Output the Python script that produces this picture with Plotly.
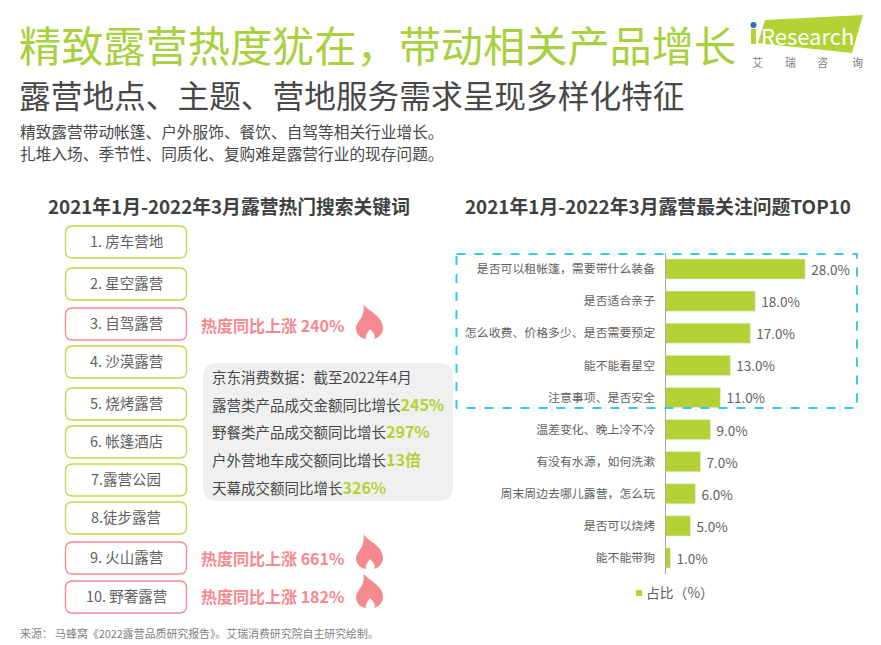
import plotly.graph_objects as go

W, H = 881, 645
FONT = "Noto Sans CJK SC"
GREEN = "#b2d235"
PINK = "#f5898f"
GRAY = "#5f5f5f"
DARK = "#484848"

# top 10 questions, largest first
questions = ["是否可以租帐篷，需要带什么装备", "是否适合亲子", "怎么收费、价格多少、是否需要预定",
             "能不能看星空", "注意事项、是否安全", "温差变化、晚上冷不冷", "有没有水源，如何洗漱",
             "周末周边去哪儿露营，怎么玩", "是否可以烧烤", "能不能带狗"]
shares = [28, 18, 17, 13, 11, 9, 7, 6, 5, 1]
series_name = "占比（%）"

keywords = ["1. 房车营地", "2. 星空露营", "3. 自驾露营", "4. 沙漠露营", "5. 烧烤露营",
            "6. 帐篷酒店", "7.露营公园", "8.徒步露营", "9. 火山露营", "10. 野奢露营"]
hot_rises = {2: "240%", 8: "661%", 9: "182%"}

jd_lines = ["京东消费数据：截至2022年4月", "露营类产品成交金额同比增长", "野餐类产品成交额同比增长",
            "户外营地车成交额同比增长", "天幕成交额同比增长"]
jd_values = ["", "245%", "297%", "13倍", "326%"]

# pixel layout of the hand placed parts
box_tops = [226, 268, 308, 346, 388, 426, 464, 502, 542, 581]
flame_tops = {2: 303, 8: 533, 9: 572}
rise_y = {2: 326, 8: 559, 9: 597}
jd_y = [378, 405, 432, 460, 488]


def px(x):
    return x / W


def py(y):
    return 1 - y / H


def round_rect(x0, y0, x1, y1, r):
    # rounded rectangle as a paper coordinates path
    pts = [("M", x0 + r, y0), ("L", x1 - r, y0), ("Q", x1, y0, x1, y0 + r), ("L", x1, y1 - r),
           ("Q", x1, y1, x1 - r, y1), ("L", x0 + r, y1), ("Q", x0, y1, x0, y1 - r),
           ("L", x0, y0 + r), ("Q", x0, y0, x0 + r, y0)]
    out = ""
    for p in pts:
        out += p[0]
        vals = p[1:]
        out += " ".join(f"{px(vals[i]):.5f},{py(vals[i + 1]):.5f}" for i in range(0, len(vals), 2)) + " "
    return out + "Z"


def flame(x0, y0):
    segs = [("M", [(7, 0)]), ("C", [(9, 7), (27, 12), (27, 25)]), ("C", [(27, 31), (22, 35), (18, 36)]),
            ("C", [(20, 33), (18, 30), (14, 26)]), ("C", [(11, 30), (9, 33), (10, 36)]),
            ("C", [(4, 35), (0, 31), (0, 25)]), ("C", [(0, 20), (6, 16), (7, 10)]),
            ("C", [(8, 6), (8, 3), (7, 0)])]
    out = ""
    for cmd, pts in segs:
        out += cmd + " ".join(f"{px(x0 + a):.5f},{py(y0 + b):.5f}" for a, b in pts) + " "
    return out + "Z"


def label(text, x, y, size, color=GRAY, anchor="left", bold=False):
    if bold:
        text = f"<b>{text}</b>"
    # annotations sit a little low and right of the asked spot
    if anchor == "left":
        x -= 2.5
    fig.add_annotation(text=text, x=px(x), y=py(y - 1.5), xref="paper", yref="paper", showarrow=False,
                       xanchor=anchor, yanchor="middle", align=anchor,
                       font=dict(size=size, color=color, family=FONT))


def path(d, fill="rgba(0,0,0,0)", line="rgba(0,0,0,0)", width=0, dash="solid", layer="above"):
    fig.add_shape(type="path", path=d, xref="paper", yref="paper", fillcolor=fill, layer=layer,
                  line=dict(color=line, width=width, dash=dash))


fig = go.Figure()
fig.add_trace(go.Bar(y=questions, x=shares, orientation="h", name=series_name, marker_color=GREEN,
                     texttemplate=" %{x:.1f}%", textposition="outside", cliponaxis=False,
                     textfont=dict(size=13.5, color=GRAY, family=FONT)))

fig.update_layout(width=W, height=H, margin=dict(l=0, r=0, t=0, b=0), autosize=False,
                  paper_bgcolor="white", plot_bgcolor="white", bargap=0.375,
                  font=dict(family=FONT, color=GRAY), showlegend=False)
fig.update_xaxes(domain=[px(665.5), px(860)], range=[0, 39], visible=False)
fig.update_yaxes(domain=[py(574), py(253)], autorange="reversed", showline=True, linecolor="#a6a6a6",
                 linewidth=1, ticks="", ticklabelstandoff=7, showgrid=False,
                 tickfont=dict(size=11.9, color=GRAY, family=FONT))

# header
label("精致露营热度犹在，带动相关产品增长", 19, 45.5, 42.2, "#a8d040")
label("露营地点、主题、营地服务需求呈现多样化特征", 19, 96, 31.7, DARK)
label("精致露营带动帐篷、户外服饰、餐饮、自驾等相关行业增长。", 20, 133, 15.7, DARK)
label("扎堆入场、季节性、同质化、复购难是露营行业的现存问题。", 20, 155, 15.7, DARK)
label("2021年1月-2022年3月露营热门搜索关键词", 229, 207, 18.8, "#404040", "center", True)
label("2021年1月-2022年3月露营最关注问题TOP10", 658, 207, 18.85, "#404040", "center", True)

# logo
path(f"M{px(765)},{py(20)} L{px(863)},{py(15)} L{px(852)},{py(53)} L{px(758)},{py(43)} Z", fill=GREEN)
path(round_rect(751, 29, 756, 44, 0.5), fill=GREEN)
path(round_rect(750.5, 22, 756.5, 28, 3), fill="#2f6db5")
label("Research", 807, 36, 22, "white", "center")
for ch, x in zip("艾瑞咨询", [757, 790, 822, 857]):
    label(ch, x, 64, 11, "#808080", "center")

# keyword boxes on the left
for i, kw in enumerate(keywords):
    top = box_tops[i]
    edge = PINK if i in hot_rises else "#bfd94a"
    path(round_rect(65.5, top, 186.5, top + 32, 7), line=edge, width=1.3)
    label(kw, 126, top + 16, 14.5, GRAY, "center")
for i, rise in hot_rises.items():
    label(f"热度同比上涨 {rise}", 201, rise_y[i], 16, PINK, bold=True)
    path(flame(356, flame_tops[i]), fill=PINK)

# JD panel
path(round_rect(203, 363, 453, 501, 14), fill="#f0f0f0", layer="below")
for text, val, y in zip(jd_lines, jd_values, jd_y):
    if val:
        text += f'<span style="color:{GREEN}"><b><span style="font-size:16px">{val}</span></b></span>'
    label(text, 212, y, 14.5, DARK)

# dashed highlight for the top five
path(round_rect(456.5, 254, 857, 408, 0.01), line="#35c8e8", width=2, dash="dash")

# legend, small square and tight gap
path(round_rect(636, 590, 642, 596, 0.01), fill=GREEN)
label(series_name, 646, 593, 13.8, GRAY)

# source
label("来源： 马蜂窝《2022露营品质研究报告》。艾瑞消费研究院自主研究绘制。", 20, 634, 10.9, "#7f7f7f")

fig.write_html("out.html", config=dict(displayModeBar=False), post_script="document.body.style.margin='0';")
